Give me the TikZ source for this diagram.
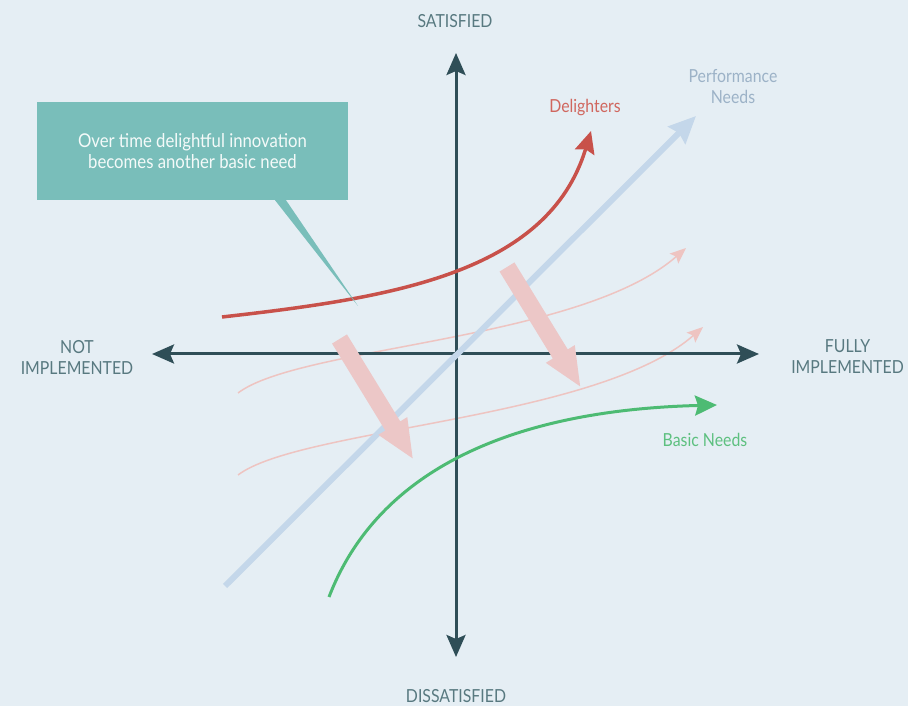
\documentclass[tikz,border=0pt]{standalone}
\usepackage{fontspec}
\setmainfont{Lato}[FakeStretch=0.88]
\usetikzlibrary{arrows.meta}
\definecolor{bgcol}{HTML}{E5EEF4}
\definecolor{axisdark}{HTML}{2F4E57}
\definecolor{labelgray}{HTML}{587980}
\definecolor{delightred}{HTML}{C8514A}
\definecolor{delighttext}{HTML}{D0665E}
\definecolor{perfblue}{HTML}{C4D7EA}
\definecolor{perftext}{HTML}{9CB2C7}
\definecolor{basicgreen}{HTML}{4DBB73}
\definecolor{basictext}{HTML}{5DC07F}
\definecolor{pinkline}{HTML}{EEC4C1}
\definecolor{blockpink}{HTML}{ECC7C7}
\definecolor{boxteal}{HTML}{79BEBA}
\begin{document}
\begin{tikzpicture}[>=latex,line join=bevel,
  lbl/.style={inner sep=0pt,align=center,font=\fontsize{18bp}{21bp}\selectfont},
  axis/.style={draw=axisdark,line width=3bp,arrows={Stealth[length=22bp,width=19bp,inset=4bp]-Stealth[length=22bp,width=19bp,inset=4bp]}},
  perf/.style={draw=perfblue,line width=6bp,-{Stealth[length=27bp,width=24bp,inset=3bp]}},
  delight/.style={draw=delightred,line width=3.5bp,-{Stealth[length=22bp,width=20bp,inset=3bp]}},
  basic/.style={draw=basicgreen,line width=3bp,-{Stealth[length=22bp,width=20bp,inset=3bp]}},
  drift/.style={draw=pinkline,line width=1.5bp,-{Stealth[length=16bp,width=13bp,inset=3bp]}},
]
%%
\useasboundingbox (0bp,0bp) rectangle (908bp,706bp);
\fill [bgcol] (0bp,0bp) rectangle (908bp,706bp);
%
\node (node_satisfied) at (455bp,678bp) [lbl,anchor=base,text=labelgray] {SATISFIED};
  \node (node_dissatisfied) at (456bp,4bp) [lbl,anchor=base,text=labelgray] {DISSATISFIED};
  \node (node_not) at (77bp,349bp) [lbl,text=labelgray] {NOT\\IMPLEMENTED};
  \node (node_fully) at (847.5bp,349bp) [lbl,text=labelgray] {FULLY\\IMPLEMENTED};
  \node (node_delighters) at (585bp,593bp) [lbl,anchor=base,text=delighttext] {Delighters};
  \node (node_performance) at (733bp,619bp) [lbl,text=perftext] {Performance\\Needs};
  \node (node_basic) at (705bp,259bp) [lbl,anchor=base,text=basictext] {Basic Needs};
%
\coordinate (axis_n) at (456bp,653bp);
  \coordinate (axis_s) at (456bp,49bp);
  \coordinate (axis_w) at (152bp,352bp);
  \coordinate (axis_e) at (759bp,352bp);
  \coordinate (perf_start) at (225bp,120bp);
  \coordinate (perf_end) at (696bp,590bp);
  \coordinate (red_start) at (222bp,389bp);
  \coordinate (red_end) at (591bp,575bp);
  \coordinate (green_start) at (329bp,109bp);
  \coordinate (green_end) at (717bp,301bp);
  \coordinate (drift1_start) at (238bp,313bp);
  \coordinate (drift1_end) at (686bp,458bp);
  \coordinate (drift2_start) at (238bp,231bp);
  \coordinate (drift2_end) at (703bp,379bp);
%
\draw [drift] (drift1_start) ..controls (300bp,360bp) and (580bp,365bp)  .. (drift1_end);
  \draw [drift] (drift2_start) ..controls (300bp,278bp) and (597bp,286bp)  .. (drift2_end);
  \draw [axis] (axis_s) -- (axis_n);
  \draw [axis] (axis_w) -- (axis_e);
  \draw [perf] (perf_start) -- (perf_end);
  \draw [delight] (red_start) ..controls (390bp,408bp) and (548bp,432bp)  .. (red_end);
  \draw [basic] (green_start) ..controls (379bp,239bp) and (517bp,296bp)  .. (green_end);
%
\node (node_box) at (192.5bp,555bp) [fill=boxteal,text=white!92!boxteal,minimum width=311bp,minimum height=98bp,align=center,font=\fontsize{19bp}{21bp}\selectfont] {Over time delightful innovation\\becomes another basic need};
  \coordinate (box_tip) at (358bp,400bp);
  \fill [boxteal] ([xshift=82.5bp]node_box.south) -- ([xshift=93.5bp]node_box.south) -- (box_tip) -- cycle;
%
\fill [blockpink,shift={(339.5bp,367bp)},rotate=-58.5] (0bp,8.75bp) -- (102bp,8.75bp) -- (102bp,17bp) -- (140bp,0bp) -- (102bp,-17bp) -- (102bp,-8.75bp) -- (0bp,-8.75bp) -- cycle;
  \fill [blockpink,shift={(507bp,439bp)},rotate=-58.5] (0bp,8.75bp) -- (102bp,8.75bp) -- (102bp,17bp) -- (140bp,0bp) -- (102bp,-17bp) -- (102bp,-8.75bp) -- (0bp,-8.75bp) -- cycle;
%
\end{tikzpicture}
\end{document}
